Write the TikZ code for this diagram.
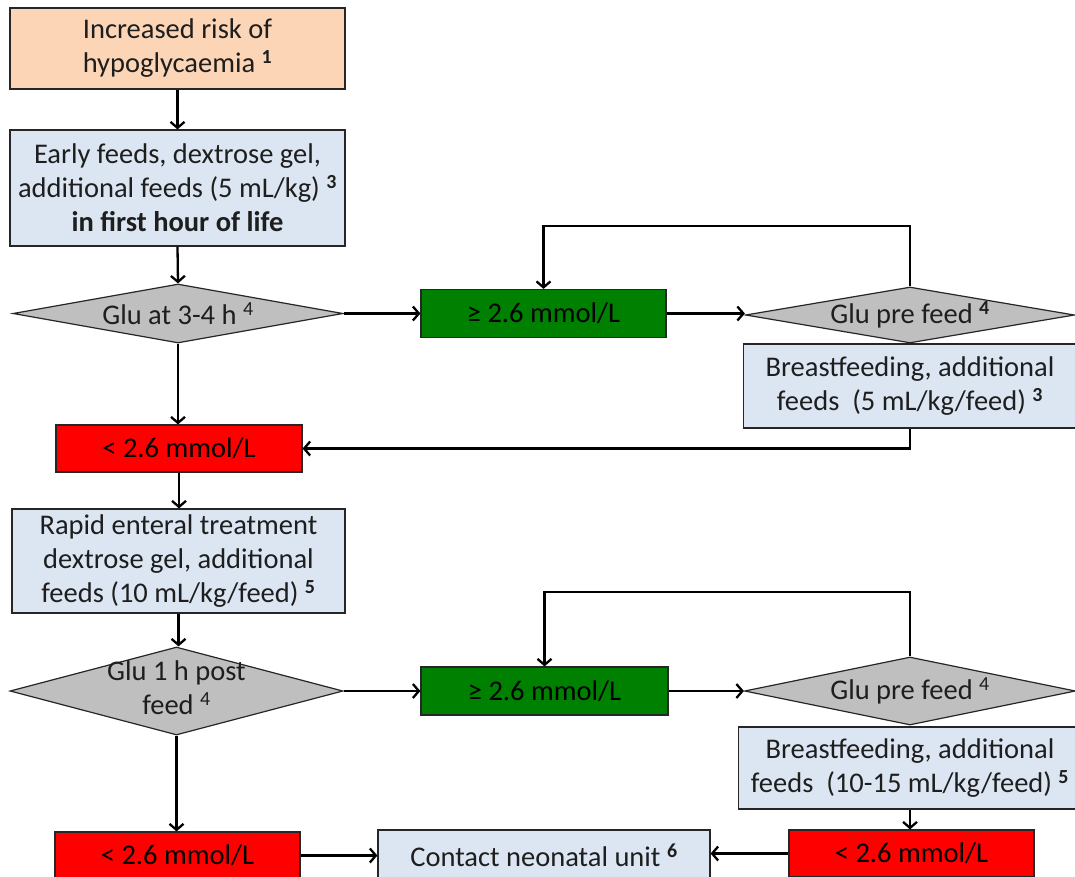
\documentclass[tikz,border=0pt]{standalone}
\usepackage{fontspec}
\setmainfont{Carlito}
\usetikzlibrary{shapes.geometric,arrows.meta}
\definecolor{peach}{HTML}{FBD5B5}
\definecolor{paleblue}{HTML}{DCE6F2}
\definecolor{greyfill}{HTML}{BFBFBF}
\definecolor{okgreen}{HTML}{008000}
\definecolor{lowred}{HTML}{FF0000}
\definecolor{txt}{HTML}{1E1E1E}
\newcommand{\supb}[1]{\textsuperscript{\textbf{#1}}}
\newcommand{\supn}[1]{\textsuperscript{#1}}
\tikzset{
  txtfont/.style={font=\fontsize{28.5}{34}\selectfont, text=txt, align=center},
  base/.style={draw=black!85, line width=1.2pt, inner sep=0pt, txtfont},
  riskbox/.style={base, rectangle, fill=peach},
  actbox/.style={base, rectangle, fill=paleblue},
  decis/.style={base, diamond, fill=greyfill},
  okbox/.style={base, rectangle, fill=okgreen, text=black},
  lowbox/.style={base, rectangle, fill=lowred, text=black},
  arr/.style={line width=2.3pt, -{Straight Barb[length=6pt,width=14pt,line width=2.3pt]}}
}
\begin{document}
\begin{tikzpicture}[x=1pt,y=-1pt]
\useasboundingbox (0,0) rectangle (1075,876);
\clip (0,0) rectangle (1075,876);
\fill[white] (0,0) rectangle (1075,876);

\node[riskbox, minimum width=335pt, minimum height=81pt] (risk) at (177.5,48.5)
  {Increased risk of\\hypoglycaemia \supb{1}};
\node[actbox, minimum width=335pt, minimum height=116pt] (early) at (177.5,188)
  {Early feeds, dextrose gel,\\additional feeds (5 mL/kg) \supb{3}\\\textbf{in first hour of life}};
\node[decis, minimum width=330pt, minimum height=59pt,
  label={[txtfont]center:Glu at 3-4 h \supn{4}}] (d1) at (178,313.5) {};
\node[okbox, minimum width=245pt, minimum height=48pt] (g1) at (543.5,313.5)
  {≥ 2.6 mmol/L};
\node[decis, minimum width=329pt, minimum height=56pt,
  label={[txtfont]center:Glu pre feed \supb{4}}] (d2) at (910,315) {};
\node[actbox, minimum width=333pt, minimum height=84pt] (bf1) at (910,386)
  {Breastfeeding, additional\\feeds\ \ (5 mL/kg/feed) \supb{3}};
\node[lowbox, minimum width=246pt, minimum height=47pt] (r1) at (179,448.5)
  {< 2.6 mmol/L};
\node[actbox, minimum width=333pt, minimum height=104pt] (rapid) at (178.5,561)
  {Rapid enteral treatment\\dextrose gel, additional\\feeds (10 mL/kg/feed) \supb{5}};
\node[decis, minimum width=333pt, minimum height=88pt,
  label={[txtfont, yshift=3pt]center:Glu 1 h post\\feed \supn{4}}] (d3) at (176.5,691) {};
\node[okbox, minimum width=247pt, minimum height=48pt] (g2) at (544.5,691)
  {≥ 2.6 mmol/L};
\node[decis, minimum width=331pt, minimum height=68pt,
  label={[txtfont]center:Glu pre feed \supn{4}}] (d4) at (910,691) {};
\node[actbox, minimum width=343pt, minimum height=82pt] (bf2) at (910,768)
  {Breastfeeding, additional\\feeds\ \ (10-15 mL/kg/feed) \supb{5}};
\node[lowbox, minimum width=245pt, minimum height=47pt] (r2) at (177.5,855.5)
  {< 2.6 mmol/L};
\node[actbox, minimum width=332pt, minimum height=50pt] (contact) at (544,855)
  {Contact neonatal unit \supb{6}};
\node[lowbox, minimum width=245pt, minimum height=47pt] (r3) at (911.5,853.5)
  {< 2.6 mmol/L};

\coordinate (loop1) at (910,226);
\coordinate (loop2) at (910,592);

\draw[arr] (risk.south) -- (early.north);
\draw[arr] (early.south) -- (d1.north);
\draw[arr] (d1.east) -- (d1.east -| g1.west);
\draw[arr] (d1.south) -- (d1.south |- r1.north);
\draw[arr] (g1.east) -- (g1.east -| d2.west);
\draw[arr] (d2.north) -- (loop1) -| (g1.north);
\draw[arr] (bf1.south) |- (r1.east);
\draw[arr] (r1.south) -- (r1.south |- rapid.north);
\draw[arr] (rapid.south) -- (rapid.south |- d3.north);
\draw[arr] (d3.east) -- (d3.east -| g2.west);
\draw[arr] (g2.east) -- (g2.east -| d4.west);
\draw[arr] (d4.north) -- (loop2) -| (g2.north);
\draw[arr] (d3.south) -- (d3.south |- r2.north);
\draw[arr] (r2.east) -- (r2.east -| contact.west);
\draw[arr] (bf2.south) -- (bf2.south |- r3.north);
\draw[arr] (r3.west) -- (r3.west -| contact.east);
\end{tikzpicture}
\end{document}
